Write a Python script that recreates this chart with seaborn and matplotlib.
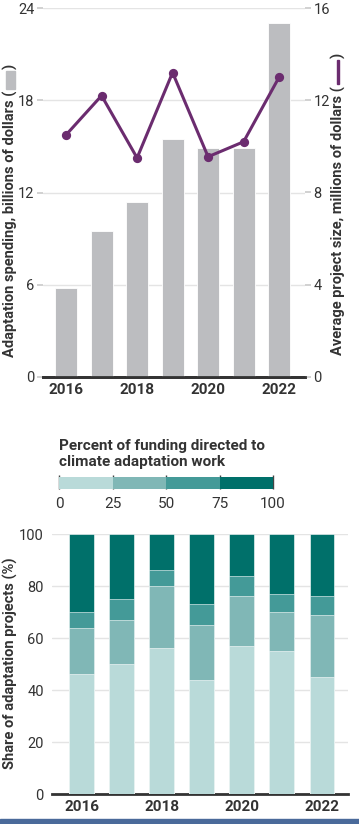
import numpy as np
import matplotlib
matplotlib.use("Agg")
import matplotlib.pyplot as plt
import seaborn as sns
from matplotlib.colors import ListedColormap, BoundaryNorm
from matplotlib.cm import ScalarMappable
from matplotlib.patches import Rectangle

# data
years = ["2016", "2017", "2018", "2019", "2020", "2021", "2022"]
spending_bn = [5.8, 9.5, 11.4, 15.5, 14.9, 14.9, 23.0]
avg_size_mn = [10.5, 12.2, 9.5, 13.2, 9.55, 10.2, 13.0]

# share of projects (%) in each funding band: 0-25, 25-50, 50-75, 75-100
band_0_25 = [46, 50, 56, 44, 57, 55, 45]
band_25_50 = [18, 17, 24, 21, 19, 15, 24]
band_50_75 = [6, 8, 6, 8, 8, 7, 7]
band_75_100 = [30, 25, 14, 27, 16, 23, 24]
band_edges = [0, 25, 50, 75, 100]

GRAY = "#bcbdc0"
PURPLE = "#6b2c6f"
TEALS = ["#b9dad9", "#80b7b6", "#449a98", "#00706a"]
INK = "#333333"
GRID = "#e4e4e4"

sns.set_theme(style="white")
plt.rcParams["font.family"] = ["Roboto", "DejaVu Sans"]

W, H = 359, 824
fig = plt.figure(figsize=(W / 100, H / 100), dpi=100)


def fbox(x0, y0, x1, y1):
    # pixel box (top-left origin) -> figure fraction rect
    return [x0 / W, 1 - y1 / H, (x1 - x0) / W, (y1 - y0) / H]


# ---------- top chart: spending bars + average project size line ----------
ax = fig.add_axes(fbox(43, 8, 305, 377))
sns.barplot(x=years, y=spending_bn, ax=ax, color=GRAY, saturation=1,
            width=0.62, edgecolor="white", linewidth=0.6, zorder=3)
ax.set_ylim(0, 24)
ax.set_yticks([0, 6, 12, 18, 24])
ax.grid(axis="y", color=GRID, linewidth=1, zorder=0)
ax.set_axisbelow(True)

ax2 = ax.twinx()
sns.pointplot(x=years, y=avg_size_mn, ax=ax2, color=PURPLE,
              linewidth=2.2, markersize=5)
ax2.set_ylim(0, 16)
ax2.set_yticks([0, 4, 8, 12, 16])
ax.set_xlim(-0.65, 6.73)
ax2.set_xlim(-0.65, 6.73)

for a in (ax, ax2):
    for s in ("top", "left", "right"):
        a.spines[s].set_visible(False)
    a.spines["bottom"].set_color(INK)
    a.spines["bottom"].set_linewidth(2)
    a.set_xlabel("")
    a.set_ylabel("")
ax.tick_params(axis="y", length=4, color="#cccccc", pad=2, labelsize=10.5, labelcolor=INK)
ax2.tick_params(axis="y", length=4, color="#cccccc", pad=2, labelsize=10.5, labelcolor=INK)
ax.set_xticks([0, 2, 4, 6])
ax.set_xticklabels([years[i] for i in (0, 2, 4, 6)], fontweight="bold",
                   fontsize=11, color=INK)
ax.tick_params(axis="x", length=0, pad=4)
ax2.tick_params(axis="x", length=0)

# ---------- legend colour bar ----------
fig.text(59 / W, 1 - 439 / H, "Percent of funding directed to\nclimate adaptation work",
         ha="left", va="top", fontsize=11, fontweight="bold", color=INK,
         linespacing=1.15)
cax = fig.add_axes(fbox(59, 477, 273, 489))
cmap = ListedColormap(TEALS)
norm = BoundaryNorm(band_edges, cmap.N)
cb = fig.colorbar(ScalarMappable(norm=norm, cmap=cmap), cax=cax,
                  orientation="horizontal", ticks=band_edges)
cb.outline.set_visible(False)
cax.tick_params(axis="x", direction="in", length=10, width=1, color="#444444",
                labelsize=11, labelcolor=INK, pad=6)

# ---------- bottom chart: stacked shares ----------
bx = fig.add_axes(fbox(52, 534, 348, 794))
bands = [band_0_25, band_25_50, band_50_75, band_75_100]
cum = np.cumsum(np.array(bands), axis=0)
for level in range(3, -1, -1):
    sns.barplot(x=years, y=cum[level], ax=bx, color=TEALS[level], saturation=1,
                width=0.62, edgecolor="white", linewidth=0.4, zorder=3)
bx.set_ylim(0, 100)
bx.set_yticks([0, 20, 40, 60, 80, 100])
bx.set_xlim(-0.74, 6.65)
bx.grid(axis="y", color=GRID, linewidth=1, zorder=0)
bx.set_axisbelow(True)
for s in ("top", "left", "right"):
    bx.spines[s].set_visible(False)
bx.spines["bottom"].set_color(INK)
bx.spines["bottom"].set_linewidth(2)
bx.set_xlabel("")
bx.set_ylabel("")
bx.tick_params(axis="y", length=4, color="#cccccc", pad=2, labelsize=10.5, labelcolor=INK)
bx.set_xticks([0, 2, 4, 6])
bx.set_xticklabels([years[i] for i in (0, 2, 4, 6)], fontweight="bold",
                   fontsize=11, color=INK)
bx.tick_params(axis="x", length=0, pad=4)

fig.text(10 / W, 1 - 663 / H, "Share of adaptation projects (%)", rotation=90,
         ha="center", va="center", fontsize=10.5, fontweight="bold", color=INK)

# ---------- axis titles with inline key symbols ----------
renderer = fig.canvas.get_renderer()


def stacked_label(xc, y_start, before, sym_len, sym_w, sym_color):
    # draws "before" + key symbol + ")" going upward from y_start (pixels from top)
    y = H - y_start
    t = fig.text(xc / W, y / H, before, rotation=90, rotation_mode="anchor",
                 ha="left", va="center", fontsize=10.5, fontweight="bold", color=INK)
    y += t.get_window_extent(renderer).height + 2
    fig.add_artist(Rectangle(((xc - sym_w / 2) / W, y / H), sym_w / W, sym_len / H,
                             transform=fig.transFigure, color=sym_color))
    y += sym_len + 2
    fig.text(xc / W, y / H, ")", rotation=90, rotation_mode="anchor",
             ha="left", va="center", fontsize=10.5, fontweight="bold", color=INK)


stacked_label(10, 357, "Adaptation spending, billions of dollars (", 18, 9, GRAY)
stacked_label(338, 355, "Average project size, millions of dollars (", 24, 2.5, PURPLE)

# strip at the bottom edge of the reference crop
fig.add_artist(Rectangle((0, 0), 1, 5 / H, transform=fig.transFigure,
                         color="#4a6a9a", zorder=10))

fig.savefig("out.png", dpi=100)
